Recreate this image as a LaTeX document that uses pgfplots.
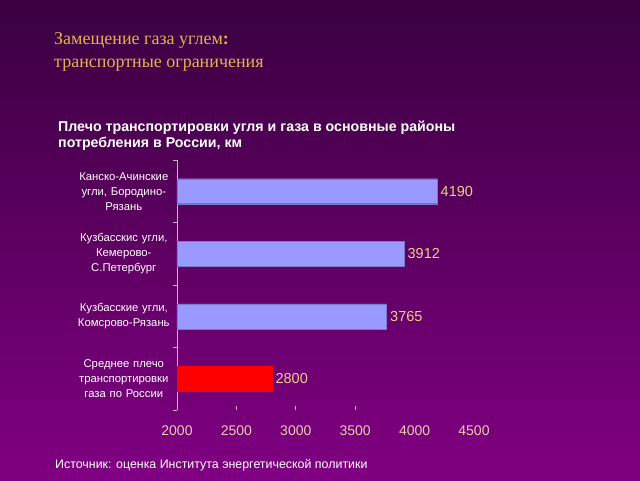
\documentclass[border=0pt]{standalone}
\usepackage{pgfplots}
\pgfplotsset{compat=1.18}
\usepackage{fontspec}
\setmainfont{Liberation Sans}
\newfontfamily\serifru{Liberation Serif}
\definecolor{bgtop}{RGB}{58,0,64}
\definecolor{bgbot}{RGB}{128,0,130}
\definecolor{titlegold}{RGB}{228,178,82}
\definecolor{valgold}{RGB}{238,205,140}
\definecolor{ticktan}{RGB}{232,205,175}
\definecolor{barblue}{RGB}{153,153,255}
\definecolor{axisgray}{RGB}{200,180,190}
\begin{document}
\begin{tikzpicture}[x=1pt,y=1pt]
\shade[top color=bgtop,bottom color=bgbot] (0,0) rectangle (640,480);
\useasboundingbox (0,0) rectangle (640,480);
\node[anchor=west,align=left,text=titlegold,font=\serifru\fontsize{18}{23}\selectfont,inner sep=0] at (54,428.5) {Замещение газа углем\textbf{:}\\транспортные ограничения};
\node[anchor=west,align=left,text=white,font=\bfseries\fontsize{14.2}{16}\selectfont,inner sep=0] at (58,344.5) {Плечо транспортировки угля и газа в основные районы\\потребления в России, км};
\node[anchor=west,text=white,font=\fontsize{12.4}{14}\selectfont,inner sep=0] at (55,15) {Источник: оценка Института энергетической политики};
\begin{axis}[
  at={(177pt,70pt)}, anchor=south west,
  scale only axis, width=297pt, height=250pt,
  xmin=2000, xmax=4500, ymin=-0.5, ymax=3.5,
  xbar, bar width=25pt, bar shift=0pt,
  axis y line*=left, axis x line*=bottom,
  x axis line style={draw=none},
  y axis line style={draw=axisgray, line width=0.8pt},
  xtick={2500,3000,3500},
  extra x ticks={2000,4000,4500},
  extra x tick style={major tick length=0pt},
  xtick style={draw=axisgray, line width=0.8pt},
  major tick length=4pt,
  xtick align=inside,
  xticklabel style={text=ticktan, font=\fontsize{14}{16}\selectfont, yshift=-12pt},
  /pgf/number format/assume math mode=true,
  /pgf/number format/1000 sep={},
  ytick={-0.5,0.5,1.5,2.5,3.5},
  yticklabels={},
  ytick style={draw=axisgray, line width=0.8pt},
  ytick align=outside,
  extra y ticks={0,1,2,3},
  extra y tick labels={{Среднее плечо\\транспортировки\\газа по России},{Кузбасские угли,\\Комсрово-Рязань},{Кузбасскис угли,\\Кемерово-\\С.Петербург},{Канско-Ачинские\\угли, Бородино-\\Рязань}},
  extra y tick style={major tick length=0pt, yticklabel style={align=center, text=white, font=\fontsize{11.3}{15}\selectfont, text width=100pt, inner sep=0pt, xshift=-3pt}},
  nodes near coords,
  nodes near coords style={text=valgold, font=\fontsize{14.5}{16}\selectfont, anchor=west, xshift=0pt, /pgf/number format/assume math mode=true},
  clip=false,
]
\addplot[fill=barblue, draw=barblue!80!black, line width=0.4pt] coordinates {(3765,1) (3912,2) (4190,3)};
\addplot[fill=red, draw=red, line width=0.4pt] coordinates {(2800,0)};
\end{axis}
\end{tikzpicture}
\end{document}
